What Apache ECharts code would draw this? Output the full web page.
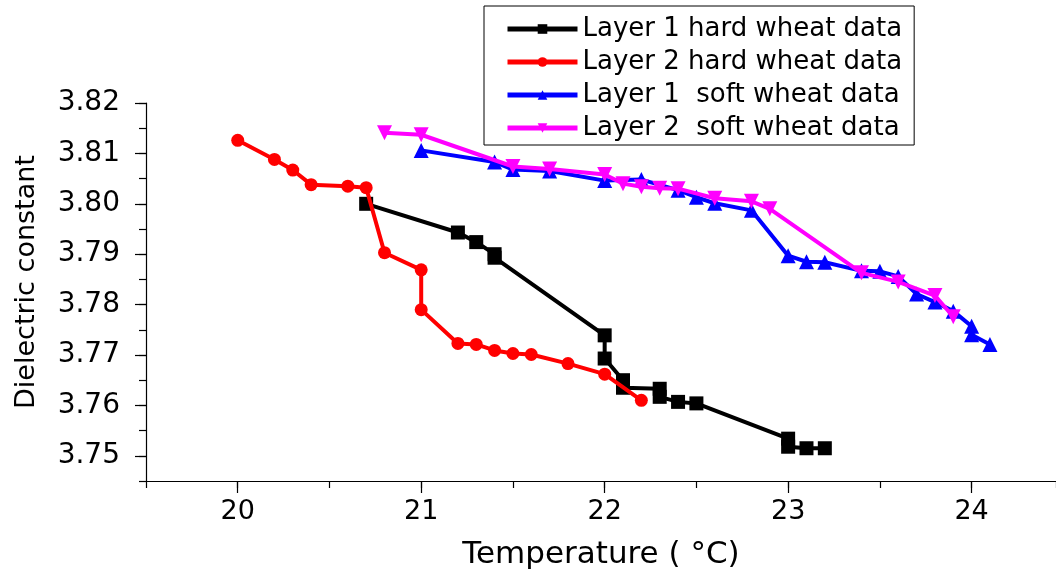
<!DOCTYPE html>
<html>
<head>
<meta charset="utf-8">
<script src="https://cdn.jsdelivr.net/npm/echarts@6/dist/echarts.min.js"></script>
<style>
html,body{margin:0;padding:0;background:#fff;}
#chart{width:1056px;height:580px;}
</style>
</head>
<body>
<div id="chart"></div>
<script>
// Series names
const seriesNames = ['Layer 1 hard wheat data', 'Layer 2 hard wheat data', 'Layer 1  soft wheat data', 'Layer 2  soft wheat data'];

// Layer 1 hard wheat: temperature (°C) and dielectric constant
const hard1T = [20.7, 21.2, 21.3, 21.4, 21.4, 22.0, 22.0, 22.1, 22.1, 22.3, 22.3, 22.4, 22.5, 23.0, 23.0, 23.1, 23.2];
const hard1V = [3.8000, 3.7943, 3.7924, 3.7900, 3.7893, 3.7739, 3.7693, 3.7650, 3.7635, 3.7633, 3.7617, 3.7607, 3.7604, 3.7534, 3.7518, 3.7515, 3.7515];

// Layer 2 hard wheat
const hard2T = [20.0, 20.2, 20.3, 20.4, 20.6, 20.7, 20.8, 21.0, 21.0, 21.2, 21.3, 21.4, 21.5, 21.6, 21.8, 22.0, 22.2];
const hard2V = [3.8126, 3.8088, 3.8067, 3.8038, 3.8035, 3.8032, 3.7903, 3.7869, 3.7790, 3.7723, 3.7721, 3.7709, 3.7703, 3.7701, 3.7683, 3.7662, 3.7610];

// Layer 1 soft wheat
const soft1T = [21.0, 21.4, 21.5, 21.7, 22.0, 22.2, 22.4, 22.5, 22.6, 22.8, 23.0, 23.1, 23.2, 23.4, 23.5, 23.6, 23.7, 23.8, 23.9, 24.0, 24.0, 24.1];
const soft1V = [3.8106, 3.8083, 3.8068, 3.8065, 3.8046, 3.8048, 3.8027, 3.8013, 3.8001, 3.7987, 3.7897, 3.7885, 3.7884, 3.7867, 3.7866, 3.7856, 3.7821, 3.7805, 3.7787, 3.7757, 3.7740, 3.7721];

// Layer 2 soft wheat
const soft2T = [20.8, 21.0, 21.5, 21.7, 22.0, 22.1, 22.2, 22.3, 22.4, 22.6, 22.8, 22.9, 23.4, 23.6, 23.8, 23.9];
const soft2V = [3.8141, 3.8137, 3.8074, 3.8069, 3.8058, 3.8040, 3.8034, 3.8031, 3.8030, 3.8011, 3.8005, 3.7990, 3.7863, 3.7845, 3.7818, 3.7776];

// Tick labels
const xTickLabels = [20, 21, 22, 23, 24];
const yTickLabels = [3.75, 3.76, 3.77, 3.78, 3.79, 3.80, 3.81, 3.82];

const zip = (a, b) => a.map((v, i) => [v, b[i]]);
const FONT = 'DejaVu Sans';

const chart = echarts.init(document.getElementById('chart'), null, {renderer: 'canvas'});

const styles = [
  {color: '#000000', symbol: 'rect', size: 14, rot: 0},
  {color: '#ff0000', symbol: 'circle', size: 13, rot: 0},
  {color: '#0000ff', symbol: 'triangle', size: 15, rot: 0},
  {color: '#ff00ff', symbol: 'triangle', size: 15, rot: 180}
];
const dataSets = [zip(hard1T, hard1V), zip(hard2T, hard2V), zip(soft1T, soft1V), zip(soft2T, soft2V)];

const series = dataSets.map((d, i) => ({
  name: seriesNames[i],
  type: 'line',
  xAxisIndex: 0,
  yAxisIndex: 0,
  data: d,
  symbol: styles[i].symbol,
  symbolSize: styles[i].size,
  symbolRotate: styles[i].rot,
  showAllSymbol: true,
  animation: false,
  lineStyle: {color: styles[i].color, width: 4},
  itemStyle: {color: styles[i].color, borderWidth: 0},
  emphasis: {disabled: true},
  z: 2 + i
}));

const option = {
  backgroundColor: '#ffffff',
  animation: false,
  grid: {left: 146, right: 0, top: 103, bottom: 99, containLabel: false},
  legend: {
    orient: 'vertical',
    left: 484,
    top: 6,
    padding: [10, 12, 4, 21],
    itemGap: 7,
    itemWidth: 70,
    itemHeight: 12,
    borderColor: '#000',
    borderWidth: 1,
    data: seriesNames,
    lineStyle: {width: 5},
    textStyle: {fontFamily: FONT, fontSize: 26, color: '#000'},
    selectedMode: false
  },
  xAxis: [
    {
      type: 'value', min: 19.5, max: 24.46, interval: 0.5,
      position: 'bottom',
      axisLine: {show: true, lineStyle: {color: '#000', width: 1.2}},
      axisTick: {show: true, length: 7, lineStyle: {color: '#000', width: 1.2}},
      axisLabel: {show: false},
      splitLine: {show: false}
    },
    {
      type: 'value', min: 19.5, max: 24.46,
      position: 'bottom',
      axisLine: {show: false},
      axisTick: {show: true, length: 12, customValues: xTickLabels, lineStyle: {color: '#000', width: 1.2}},
      axisLabel: {show: true, customValues: xTickLabels, margin: 17, fontFamily: FONT, fontSize: 27, color: '#000'},
      splitLine: {show: false},
      name: 'Temperature ( °C)',
      nameLocation: 'middle',
      nameGap: 58,
      nameTextStyle: {fontFamily: FONT, fontSize: 31, color: '#000'}
    }
  ],
  yAxis: [
    {
      type: 'value', min: 3.745, max: 3.82, interval: 0.005,
      position: 'left',
      axisLine: {show: true, lineStyle: {color: '#000', width: 1.2}},
      axisTick: {show: true, length: 7, lineStyle: {color: '#000', width: 1.2}},
      axisLabel: {show: false},
      splitLine: {show: false}
    },
    {
      type: 'value', min: 3.745, max: 3.82,
      position: 'left',
      axisLine: {show: false},
      axisTick: {show: true, length: 11, customValues: yTickLabels, lineStyle: {color: '#000', width: 1.2}},
      axisLabel: {show: true, customValues: yTickLabels, margin: 26, fontFamily: FONT, fontSize: 28, color: '#000',
        formatter: v => Number(v).toFixed(2)},
      splitLine: {show: false},
      name: 'Dielectric constant',
      nameLocation: 'middle',
      nameGap: 106,
      nameTextStyle: {fontFamily: FONT, fontSize: 27, color: '#000', padding: [0, 0, 0, 20]}
    }
  ],
  series: series
};

chart.setOption(option);
</script>
</body>
</html>
